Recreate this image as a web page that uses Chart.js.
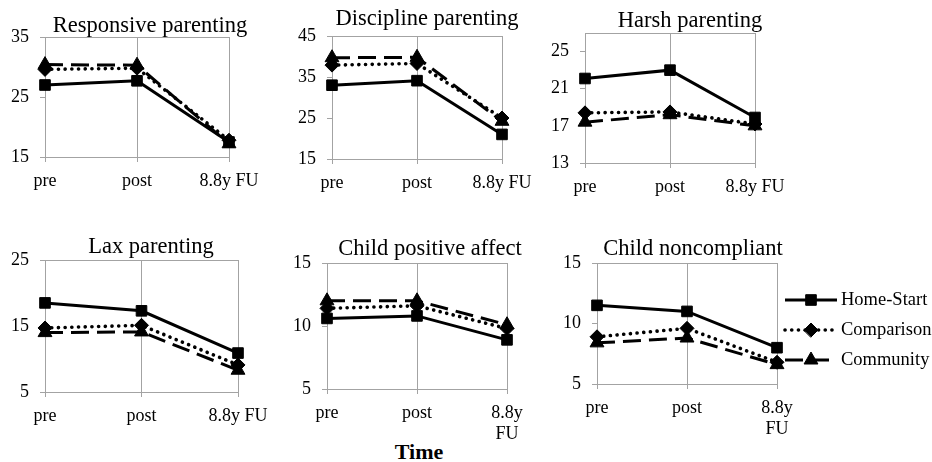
<!DOCTYPE html>
<html><head><meta charset="utf-8">
<script src="https://cdn.jsdelivr.net/npm/chart.js@4.4.0/dist/chart.umd.min.js"></script>
<style>
html,body{margin:0;padding:0;background:#fff;}
#wrap{position:relative;width:932px;height:462px;overflow:hidden;background:#fff;}
#wrap canvas{position:absolute;left:0;top:0;}
#time{position:absolute;left:369px;width:100px;top:441px;text-align:center;font:bold 22px 'Liberation Serif',serif;line-height:22px;color:#000;}
</style></head><body>
<div id="wrap"><div id="time">Time</div></div>
<script>
// ---------- data ----------
const panelTitles = ['Responsive parenting','Discipline parenting','Harsh parenting','Lax parenting','Child positive affect','Child noncompliant'];
const timeLabels = ['pre','post','8.8y FU'];
const timeLabelsWrapped = ['pre','post',['8.8y','FU']];
const seriesNames = ['Home-Start','Comparison','Community'];
const homeStart  = [[27.0,27.7,17.5],[33.0,34.1,21.0],[22.1,23.0,17.9],[18.5,17.3,10.9],[10.6,10.8,8.9],[11.5,11.0,8.0]];
const comparison = [[29.6,29.8,17.8],[37.9,38.3,25.0],[18.4,18.5,17.2],[14.7,15.1,9.1],[11.4,11.6,9.8],[8.9,9.6,6.8]];
const community  = [[30.4,30.3,17.2],[39.7,39.8,24.2],[17.4,18.2,17.0],[14.0,14.1,8.3],[12.0,12.0,10.1],[8.4,8.8,6.6]];
const yTicks = [[15,25,35],[15,25,35,45],[13,17,21,25],[5,15,25],[5,10,15],[5,10,15]];
const yMin = [15,15,13,5,5,5];
const yMax = [35,45,27,25,15,15];

// ---------- layout (page pixels) ----------
const W = 932, H = 462, YW = 40, XH = 60;
const plotBox = [
  {l:45,t:37,r:229,b:157},{l:332,t:36,r:502,b:159},{l:585,t:33,r:755,b:163},
  {l:45,t:260,r:238,b:392},{l:327,t:263,r:507,b:389},{l:597,t:263,r:777,b:384}
];
const titlePos = [{x:150,y:32},{x:427,y:25},{x:690,y:27},{x:151,y:253},{x:430,y:255},{x:693,y:255}];
const legendLayout = {x1:785, x2:837, xm:811, textX:841, rows:[300,330,360]};
const FONT = "'Liberation Serif', 'Times New Roman', serif";
const GRID = '#a3a3a3';

const styles = [
  {borderDash:[], borderCapStyle:'butt', borderWidth:3, pointStyle:'rect', pointRadius:7.5, order:3},
  {borderDash:[0.1,6.6], borderCapStyle:'round', borderWidth:3.6, pointStyle:'rectRot', pointRadius:7, order:2},
  {borderDash:[18,8], borderCapStyle:'butt', borderWidth:3, pointStyle:'triangle', pointRadius:8, order:1}
];
const seriesData = [homeStart, comparison, community];

const titlePlugin = {
  id:'panelTitle',
  afterDraw(chart){
    const i = chart.options.plugins.panelTitle.index;
    const ctx = chart.ctx;
    ctx.save();
    ctx.font = "22.5px " + FONT;
    ctx.fillStyle = '#000';
    ctx.textAlign = 'center';
    ctx.textBaseline = 'alphabetic';
    ctx.fillText(panelTitles[i], titlePos[i].x, titlePos[i].y);
    ctx.restore();
  }
};

const legendPlugin = {
  id:'sideLegend',
  afterDraw(chart){
    if (!chart.options.plugins.sideLegend.show) return;
    const ctx = chart.ctx;
    chart.data.datasets.forEach((ds, k) => {
      const y = legendLayout.rows[k];
      ctx.save();
      ctx.strokeStyle = '#000';
      ctx.lineWidth = ds.borderWidth;
      ctx.lineCap = ds.borderCapStyle;
      ctx.setLineDash(ds.borderDash);
      ctx.beginPath();
      ctx.moveTo(legendLayout.x1, y);
      ctx.lineTo(legendLayout.x2, y);
      ctx.stroke();
      ctx.setLineDash([]);
      ctx.fillStyle = '#000';
      ctx.lineWidth = 1;
      Chart.helpers.drawPoint(ctx, {pointStyle: ds.pointStyle, radius: ds.pointRadius, borderWidth: 1, rotation: 0}, legendLayout.xm, y);
      ctx.font = "18.5px " + FONT;
      ctx.textAlign = 'left';
      ctx.textBaseline = 'middle';
      ctx.fillText(ds.label, legendLayout.textX, y);
      ctx.restore();
    });
  }
};

const wrap = document.getElementById('wrap');
plotBox.forEach((box, i) => {
  const cv = document.createElement('canvas');
  cv.width = W; cv.height = H;
  cv.style.width = W + 'px'; cv.style.height = H + 'px';
  wrap.appendChild(cv);
  const labels = i >= 4 ? timeLabelsWrapped : timeLabels;
  new Chart(cv, {
    type:'line',
    data:{
      labels: labels,
      datasets: seriesData.map((arr, k) => Object.assign({
        label: seriesNames[k],
        data: arr[i],
        borderColor:'#000',
        backgroundColor:'#000',
        pointBackgroundColor:'#000',
        pointBorderColor:'#000',
        pointBorderWidth:1,
        tension:0,
        fill:false,
        clip:false
      }, styles[k]))
    },
    options:{
      responsive:false,
      devicePixelRatio:1,
      animation:false,
      events:[],
      layout:{padding:{left: box.l - YW, top: box.t, right: W - box.r, bottom: Math.max(0, H - box.b - XH)}},
      plugins:{
        legend:{display:false},
        tooltip:{enabled:false},
        panelTitle:{index:i},
        sideLegend:{show: i === 5}
      },
      scales:{
        x:{
          type:'category', position:'bottom', offset:false,
          grid:{display:true, drawOnChartArea:true, drawTicks:true, tickLength:5, color:GRID, lineWidth:1},
          border:{display:true, color:GRID, width:1},
          ticks:{color:'#000', font:{family:FONT, size:18, lineHeight:1.2}, padding:8, maxRotation:0, minRotation:0, autoSkip:false},
          afterFit(s){ s.height = XH; }
        },
        x2:{
          type:'category', position:'top', display:true, offset:false,
          grid:{display:false},
          ticks:{display:false},
          border:{display:true, color:GRID, width:1},
          afterFit(s){ s.height = 0; }
        },
        y:{
          type:'linear', position:'left', min:yMin[i], max:yMax[i],
          grid:{display:true, drawOnChartArea:false, drawTicks:true, tickLength:5, color:GRID, lineWidth:1},
          border:{display:true, color:GRID, width:1},
          ticks:{color:'#000', font:{family:FONT, size:18}, padding:11},
          afterBuildTicks(s){ s.ticks = yTicks[i].map(v => ({value:v})); },
          afterFit(s){ s.width = YW; }
        }
      }
    },
    plugins:[titlePlugin, legendPlugin]
  });
});
</script>
</body></html>
